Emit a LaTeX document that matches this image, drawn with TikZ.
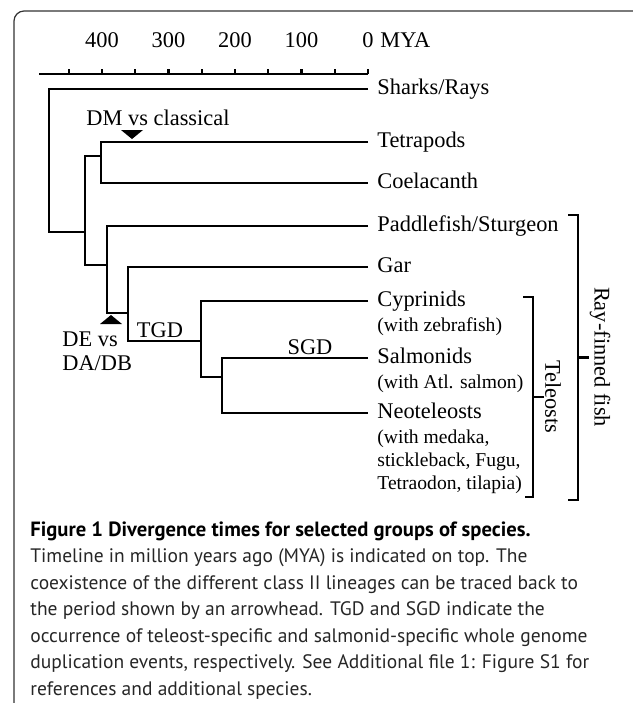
\documentclass[tikz,border=0pt]{standalone}
\usepackage{fontspec}
\setmainfont{Liberation Serif}
\newfontfamily\capfont{PT Sans}
\begin{document}
\begin{tikzpicture}[x=0.5pt,y=-0.5pt,
	branch/.style={line width=1.15pt},
	taxon/.style={anchor=west,inner xsep=4.5pt,inner ysep=0.75pt,text height=8pt,text depth=2.3pt,font=\fontsize{11.2}{11.8}\selectfont},
	note/.style={anchor=north west,inner xsep=4.5pt,inner ysep=2.2pt,align=left,font=\fontsize{9.8}{11.5}\selectfont},
	ticklabel/.style={inner sep=0pt,font=\fontsize{11.2}{12}\selectfont},
	event/.style={inner sep=0pt,font=\fontsize{11.2}{12}\selectfont},
	grouplabel/.style={inner sep=0pt,rotate=-90,font=\fontsize{11.2}{12}\selectfont}]
	\useasboundingbox (0,0) rectangle (633,703);
	\draw [line width=0.6pt,rounded corners=5pt,black!80] (633,11) -- (14,11) -- (14,703);
	% time axis
	\draw [branch] (39,74) -- (368,74);
	\foreach \k in {0,...,9}
		\draw [branch] (368-33.25*\k,74) -- ++(0,-5);
	\foreach \v [count=\i from 0] in {0,100,200,300,400}
		\node[ticklabel] (t\v) at (368-66.5*\i,40) {\v};
	\node[ticklabel,anchor=west] (mya) at (380,40) {MYA};
	% leaves
	\node[taxon] (sharks) at (368,89) {Sharks/Rays};
	\node[taxon] (tetra) at (368,142) {Tetrapods};
	\node[taxon] (coel) at (368,183) {Coelacanth};
	\node[taxon] (paddle) at (368,226) {Paddlefish/Sturgeon};
	\node[taxon] (gar) at (368,267) {Gar};
	\node[taxon] (cyp) at (368,301) {Cyprinids};
	\node[note] (cypnote) at (cyp.south west) {(with zebrafish)};
	\node[taxon] (salm) at (368,358) {Salmonids};
	\node[note] (salmnote) at (salm.south west) {(with Atl. salmon)};
	\node[taxon] (neot) at (368,413) {Neoteleosts};
	\node[note] (neotnote) at (neot.south west) {(with medaka,\\stickleback, Fugu,\\Tetraodon, tilapia)};
	% inner nodes
	\coordinate (root) at (49,232);
	\coordinate (bony) at (85,232);
	\coordinate (sarco) at (101,156);
	\coordinate (actino) at (107,265);
	\coordinate (neo) at (128,313);
	\coordinate (teleo) at (201,341);
	\coordinate (eut) at (222,377);
	% branches
	\draw [branch] (sharks.west) -| (root) -- (bony);
	\draw [branch] (sarco) -| (bony) |- (actino);
	\draw [branch] (tetra.west) -| (sarco) |- (coel.west);
	\draw [branch] (paddle.west) -| (actino) |- (neo);
	\draw [branch] (gar.west) -| (neo) |- (teleo);
	\draw [branch] (cyp.west) -| (teleo) |- (eut);
	\draw [branch] (salm.west) -| (eut) |- (neot.west);
	% arrowheads and events
	\fill (121,130) -- (143,130) -- (132,139) -- cycle;
	\fill (100,324) -- (122,324) -- (111,315) -- cycle;
	\node[event] (dm) at (158,118) {DM vs classical};
	\node[event,anchor=west,align=left] (de) at (62,351) {DE vs\\DA/DB};
	\node[event] (tgd) at (160,330) {TGD};
	\node[event] (sgd) at (310,347) {SGD};
	% groups
	\draw [branch] (568,215) -- (578,215) -- (578,500) -- (568,500);
	\draw [branch] (578,357.5) -- (589,357.5);
	\draw [branch] (523,297) -- (533,297) -- (533,497) -- (525,497);
	\draw [branch] (533,397) -- (544,397);
	\node[grouplabel] (rayfin) at (600,357) {Ray-finned fish};
	\node[grouplabel] (teleosts) at (553,397) {Teleosts};
	% caption
	\node[anchor=north west,inner sep=0pt,align=left,text=black!85,font=\capfont\fontsize{9.75}{13.25}\selectfont] (caption) at (30,521)
		{\textcolor{black}{\fontsize{10.3}{13.25}\selectfont\bfseries Figure 1 Divergence times for selected groups of species.}\\
		Timeline in million years ago (MYA) is indicated on top. The\\
		coexistence of the different class II lineages can be traced back to\\
		the period shown by an arrowhead. TGD and SGD indicate the\\
		occurrence of teleost-specific and salmonid-specific whole genome\\
		duplication events, respectively. See Additional file 1: Figure S1 for\\
		references and additional species.};
\end{tikzpicture}
\end{document}
